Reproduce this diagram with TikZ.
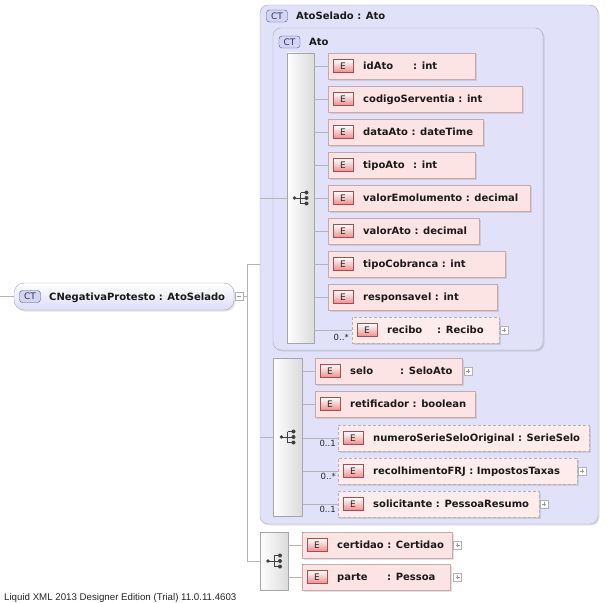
\documentclass[tikz,border=0pt]{standalone}
\usepackage{fontspec}
\setmainfont{DejaVu Sans}
\newfontfamily\footfont{Liberation Sans}
\usetikzlibrary{shadows}
\definecolor{lavfill}{HTML}{E1E1FA}
\definecolor{lavline}{HTML}{A8A8B8}
\definecolor{pinkfill}{HTML}{FDE4E4}
\definecolor{pinkline}{HTML}{C8A8A8}
\definecolor{ebot}{HTML}{F08C8C}
\definecolor{eline}{HTML}{A05050}
\definecolor{ctfill}{HTML}{D4D4F4}
\definecolor{ctline}{HTML}{50508C}
\definecolor{connc}{HTML}{B4B4B4}
\tikzset{
 shad/.style={drop shadow={shadow xshift=1.5pt,shadow yshift=-1.5pt,opacity=0.22}},
 cont/.style={draw=lavline, fill=lavfill, rounded corners=8pt, shad, inner sep=0},
 rootbox/.style={draw=lavline, top color=white, bottom color=ctfill!80, rounded corners=10pt, shad, inner sep=0},
 seqbox/.style={draw=gray!70, left color=white, middle color=gray!4, right color=gray!28, inner sep=0},
 elembox/.style={draw=pinkline, fill=pinkfill, shad, minimum height=26pt, inner sep=0},
 optbox/.style={elembox, draw=gray!60, dash pattern=on 3pt off 2pt, fill=pinkfill!75},
 ebadge/.style={draw=eline, top color=white, bottom color=ebot, minimum width=20pt, minimum height=13pt, inner sep=0, font=\fontsize{9}{9}\selectfont\mdseries, text=black!85},
 ctbadge/.style={draw=ctline, fill=ctfill, rounded corners=3pt, minimum width=21pt, minimum height=12pt, inner sep=0, font=\fontsize{9}{9}\selectfont\mdseries, text=ctline!60!black},
 lbl/.style={anchor=base west, inner sep=0, text=black!90},
 pmbox/.style={draw=gray!60, fill=white, minimum size=8pt, inner sep=0},
 plusbox/.style={pmbox, path picture={\draw[gray!80,line width=0.5pt] ([xshift=2pt]path picture bounding box.west) -- ([xshift=-2pt]path picture bounding box.east) ([yshift=-2pt]path picture bounding box.north) -- ([yshift=2pt]path picture bounding box.south);}},
 minusbox/.style={pmbox, path picture={\draw[gray!80,line width=0.5pt] ([xshift=2pt]path picture bounding box.west) -- ([xshift=-2pt]path picture bounding box.east);}},
 conn/.style={draw=connc, line width=0.7pt},
 card/.style={font=\fontsize{8.5}{9}\selectfont\mdseries, anchor=base east, inner sep=0, text=black!85},
 seqicon/.pic={
   \draw[black!75, line width=0.8pt] (-6,0) -- (0,0) (0,-5.5) -- (0,5.5) (0,-5.5) -- (6,-5.5) (0,0) -- (6,0) (0,5.5) -- (6,5.5);
   \fill[black!75] (-6,0) circle (1.9pt) (6,-5.5) circle (2pt) (6,0) circle (2pt) (6,5.5) circle (2pt);
 },
}
% [style]{name}{left}{cy}{right}{text}
\newcommand\elem[6][elembox]{%
  \node[#1, minimum width=#5-#3, anchor=west] (#2) at (#3,#4) {};
  \node[ebadge] (#2e) at (#3+15,#4) {E};
  \node[lbl] (#2t) at (#3+35,#4+3.7) {#6};
}
\newcommand\pad[1]{\makebox[50pt][l]{#1}}
\begin{document}
\begin{tikzpicture}[x=1pt,y=-1pt, font=\fontsize{10}{12}\selectfont\bfseries]
\fill[white] (0,0) rectangle (615,602);
\useasboundingbox (0,0) rectangle (615,602);

% containers
\node[cont, minimum width=338, minimum height=519] (atoselado) at (429,264.5) {};
\node[ctbadge] (ctAS) at (277,16) {CT};
\node[lbl] (tAS) at (296,19.7) {AtoSelado : Ato};
\node[cont, minimum width=270, minimum height=322] (ato) at (408,189) {};
\node[ctbadge] (ctAto) at (289.5,42) {CT};
\node[lbl] (tAto) at (309,45.7) {Ato};

% root
\coordinate (start) at (0,296.5);
\node[rootbox, minimum width=220, minimum height=27] (root) at (124,296.5) {};
\node[ctbadge] (ctRoot) at (30,296.5) {CT};
\node[lbl] (tRoot) at (49,300.2) {CNegativaProtesto : AtoSelado};
\node[minusbox] (minus) at (239,296.5) {};
\coordinate (bus) at (247,296.5);

% sequence boxes
\node[seqbox, minimum width=27, minimum height=290] (seq1) at (300.5,198) {};
\pic at (seq1.center) {seqicon};
\node[seqbox, minimum width=29, minimum height=158] (seq2) at (287.5,437) {};
\pic at (seq2.center) {seqicon};
\node[seqbox, minimum width=28, minimum height=58] (seq3) at (274,561) {};
\pic at (seq3.center) {seqicon};

% connectors of the root
\draw[conn] (start) -- (root.west);
\draw[conn] (minus.east) -- (bus);
\draw[conn] (bus |- atoselado.west) -- (bus |- seq3.west);
\draw[conn] (bus |- atoselado.west) -- (atoselado.west);
\draw[conn] (bus |- seq3.west) -- (seq3.west);
\draw[conn] (seq1.west -| atoselado.west) -- (seq1.west);
\draw[conn] (seq2.west -| atoselado.west) -- (seq2.west);

% Ato elements
\elem{idAto}{328}{66}{475}{\pad{idAto}: int}
\elem{codigo}{328}{99}{522}{codigoServentia : int}
\elem{dataAto}{328}{132}{483}{dataAto : dateTime}
\elem{tipoAto}{328}{165}{475}{\pad{tipoAto}: int}
\elem{valorEmol}{328}{198}{530}{valorEmolumento : decimal}
\elem{valorAto}{328}{231}{479}{valorAto : decimal}
\elem{tipoCob}{328}{264}{505}{tipoCobranca : int}
\elem{resp}{328}{297}{497}{responsavel : int}
\elem[optbox]{recibo}{352}{330}{499}{\pad{recibo}: Recibo}
\node[plusbox] (pRecibo) at (504,330) {};
\node[card] (cRecibo) at (349,340) {0..*};
\foreach \e in {idAto,codigo,dataAto,tipoAto,valorEmol,valorAto,tipoCob,resp,recibo}
  \draw[conn] (seq1.east |- \e.west) -- (\e.west);

% AtoSelado elements
\elem{selo}{315}{371}{462}{\pad{selo}: SeloAto}
\node[plusbox] (pSelo) at (468,371) {};
\elem{retif}{315}{404}{475}{retificador : boolean}
\elem[optbox]{numero}{338}{438}{589}{numeroSerieSeloOriginal : SerieSelo}
\node[card] (cNumero) at (336,446) {0..1};
\elem[optbox]{recolh}{338}{471}{577}{recolhimentoFRJ : ImpostosTaxas}
\node[plusbox] (pRecolh) at (582,471) {};
\node[card] (cRecolh) at (336,479) {0..*};
\elem[optbox]{solic}{338}{504}{539}{solicitante : PessoaResumo}
\node[plusbox] (pSolic) at (544,504) {};
\node[card] (cSolic) at (336,512) {0..1};
\foreach \e in {selo,retif,numero,recolh,solic}
  \draw[conn] (seq2.east |- \e.west) -- (\e.west);

% root elements
\elem{certidao}{302}{545}{452}{certidao : Certidao}
\node[plusbox] (pCert) at (457.5,545) {};
\elem{parte}{302}{577}{450}{\pad{parte}: Pessoa}
\node[plusbox] (pParte) at (457.5,577) {};
\foreach \e in {certidao,parte}
  \draw[conn] (seq3.east |- \e.west) -- (\e.west);

\node[anchor=base west, inner sep=0, font=\footfont\fontsize{9.7}{10}\selectfont\mdseries, text=black!85] (foot) at (4,600) {Liquid XML 2013 Designer Edition (Trial) 11.0.11.4603};
\end{tikzpicture}
\end{document}
